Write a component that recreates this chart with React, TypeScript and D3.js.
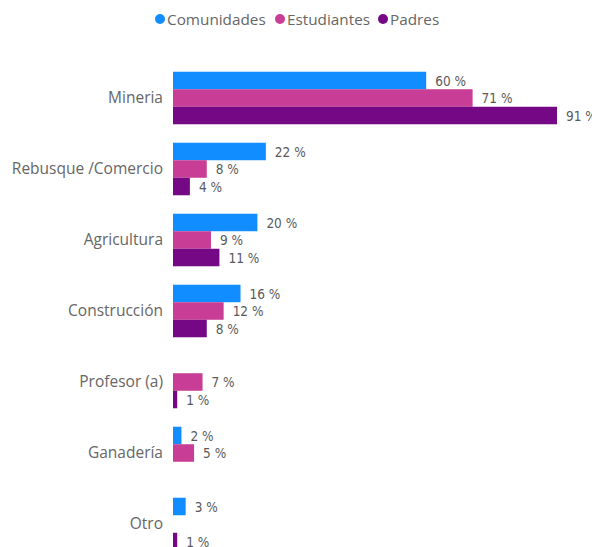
import React from "react";
import * as d3 from "d3";

const categories = ["Mineria", "Rebusque /Comercio", "Agricultura", "Construcción", "Profesor (a)", "Ganadería", "Otro"];
const seriesNames = ["Comunidades", "Estudiantes", "Padres"];
const comunidades: (number | null)[] = [60, 22, 20, 16, null, 2, 3];
const estudiantes: (number | null)[] = [71, 8, 9, 12, 7, 5, null];
const padres: (number | null)[] = [91, 4, 11, 8, 1, null, 1];
const colors = ["#118DFF", "#C83D95", "#750985"];

const W = 592, H = 547;

export default function App() {
  const seriesData = [comunidades, estudiantes, padres];
  const y = d3.scaleBand<string>().domain(categories).range([62.5, 559.5]).paddingInner(0.26).paddingOuter(0.13);
  const yInner = d3.scaleBand<string>().domain(seriesNames).range([0, y.bandwidth()]);
  const x = d3.scaleLinear().domain([0, 91]).range([173, 557]);

  const legendItems = [
    { name: seriesNames[0], cx: 160, tx: 167 },
    { name: seriesNames[1], cx: 280, tx: 287 },
    { name: seriesNames[2], cx: 383, tx: 390 },
  ];

  return (
    <svg width={W} height={H} style={{ position: "absolute", left: 0, top: 0, background: "#fff" }}>
      <g>
        {legendItems.map((l, i) => (
          <g key={l.name}>
            <circle cx={l.cx} cy={19} r={5} fill={colors[i]} />
            <text x={l.tx} y={24.5} fontFamily="'Open Sans', sans-serif" fontSize={15.3} fill="#666">{l.name}</text>
          </g>
        ))}
      </g>
      <g>
        {categories.map((c) => (
          <text key={c} x={163} y={(y(c) as number) + y.bandwidth() / 2} dy="0.35em" textAnchor="end"
            fontFamily="'Open Sans', sans-serif" fontSize={15.5} fill="#666">{c}</text>
        ))}
      </g>
      <g>
        {seriesData.map((vals, si) =>
          vals.map((v, ci) => {
            if (v == null) return null;
            const cat = categories[ci];
            const by = (y(cat) as number) + (yInner(seriesNames[si]) as number);
            const bh = yInner.bandwidth();
            const x1 = x(v);
            return (
              <g key={si + "-" + ci}>
                <rect x={x(0)} y={by} width={x1 - x(0)} height={bh} fill={colors[si]} />
                <text x={x1 + 9} y={by + bh / 2} dy="0.38em" fontFamily="'DejaVu Sans Condensed', 'DejaVu Sans', sans-serif"
                  fontSize={13.5} fill="#5a5a5a">{v + " %"}</text>
              </g>
            );
          })
        )}
      </g>
    </svg>
  );
}
